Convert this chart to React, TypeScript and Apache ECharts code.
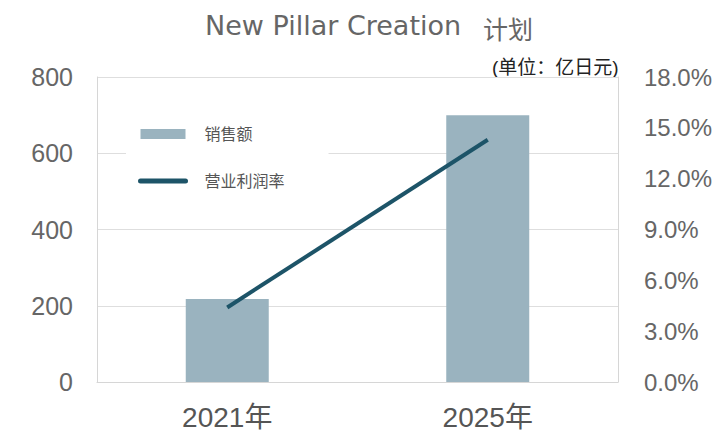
import React, { useEffect, useRef } from "react";
import * as echarts from "echarts";

const categories = ["2021年", "2025年"];
const salesValues = [218, 700];
const marginValues = [4.4, 14.3];
const seriesNames = ["销售额", "营业利润率"];
const titleMain = "New Pillar Creation";
const titleCjk = "计划";
const unitText = "(单位：亿日元)";

const FONT = "'Liberation Sans', Arial, 'Noto Sans CJK SC', sans-serif";
const TITLE_FONT = "'DejaVu Sans', 'Noto Sans CJK SC', sans-serif";

export default function App() {
  const ref = useRef<HTMLDivElement>(null);
  useEffect(() => {
    if (!ref.current) return;
    const chart = echarts.init(ref.current, undefined, { renderer: "svg" });
    chart.setOption({
      animation: false,
      backgroundColor: "#ffffff",
      textStyle: { fontFamily: FONT },
      graphic: [
        {
          type: "text",
          left: 205,
          top: 12,
          style: { text: titleMain, fontSize: 27, fill: "#666", fontFamily: TITLE_FONT },
        },
        {
          type: "text",
          left: 483,
          top: 15,
          style: { text: titleCjk, fontSize: 25, fill: "#666", fontFamily: "'Noto Sans CJK SC', sans-serif" },
        },
        {
          type: "text",
          left: 492,
          top: 58,
          style: { text: unitText, fontSize: 19, fill: "#222", fontFamily: FONT },
        },
      ],
      legend: {
        orient: "vertical",
        left: 126,
        top: 112,
        padding: [14, 44, 14, 12],
        backgroundColor: "#ffffff",
        itemWidth: 45,
        itemHeight: 10,
        itemGap: 31,
        textStyle: { fontSize: 16, color: "#555", padding: [0, 0, 0, 14], fontFamily: FONT },
        data: [
          { name: seriesNames[0], icon: "rect" },
          { name: seriesNames[1], itemStyle: { opacity: 0 }, lineStyle: { width: 5, cap: "round" } },
        ],
      },
      grid: { left: 97, right: 102, top: 77, bottom: 53 },
      xAxis: {
        type: "category",
        data: categories,
        axisLine: { show: true, lineStyle: { color: "#d6d6d6" } },
        axisTick: { show: false },
        axisLabel: { fontSize: 28, color: "#555", margin: 21 },
      },
      yAxis: [
        {
          type: "value",
          min: 0,
          max: 800,
          interval: 200,
          axisLine: { show: true, lineStyle: { color: "#d6d6d6" } },
          axisTick: { show: false },
          splitLine: { show: true, lineStyle: { color: "#dedede" } },
          axisLabel: { fontSize: 25, color: "#666", margin: 24 },
        },
        {
          type: "value",
          min: 0,
          max: 18,
          interval: 3,
          axisLine: { show: true, lineStyle: { color: "#d6d6d6" } },
          axisTick: { show: false },
          splitLine: { show: false },
          axisLabel: {
            fontSize: 24,
            color: "#666",
            margin: 26,
            formatter: (v: number) => v.toFixed(1) + "%",
          },
        },
      ],
      series: [
        {
          name: seriesNames[0],
          type: "bar",
          data: salesValues,
          barWidth: 83,
          itemStyle: { color: "#9ab3bf" },
        },
        {
          name: seriesNames[1],
          type: "line",
          yAxisIndex: 1,
          data: marginValues,
          symbol: "none",
          lineStyle: { color: "#1d5468", width: 4 },
          itemStyle: { color: "#1d5468" },
        },
      ],
    });
    return () => chart.dispose();
  }, []);
  return (
    <div
      ref={ref}
      style={{ position: "fixed", left: 0, top: 0, width: 720, height: 435 }}
    />
  );
}
